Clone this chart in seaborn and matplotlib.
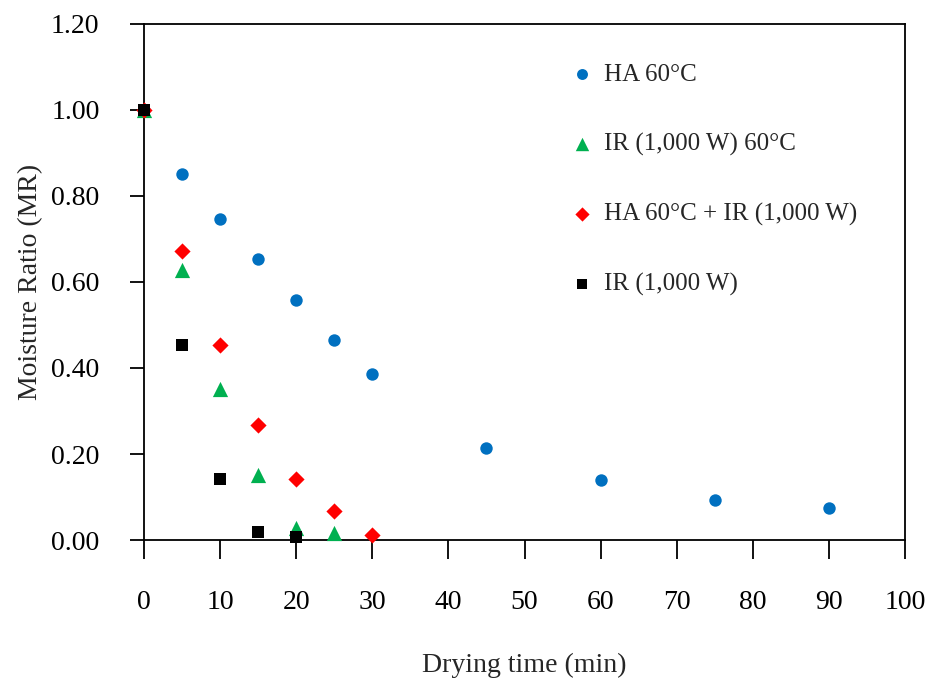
import matplotlib
matplotlib.use("Agg")
import matplotlib.pyplot as plt
import seaborn as sns
import pandas as pd

# Data
series_names = ["HA 60°C", "IR (1,000 W) 60°C", "HA 60°C + IR (1,000 W)", "IR (1,000 W)"]
ha_time = [0, 5, 10, 15, 20, 25, 30, 45, 60, 75, 90]
ha_mr = [1.00, 0.851, 0.747, 0.653, 0.558, 0.465, 0.386, 0.214, 0.140, 0.093, 0.074]
ir60_time = [0, 5, 10, 15, 20, 25]
ir60_mr = [1.00, 0.628, 0.351, 0.152, 0.028, 0.016]
hair_time = [0, 5, 10, 15, 20, 25, 30]
hair_mr = [1.00, 0.672, 0.453, 0.267, 0.142, 0.067, 0.012]
ir_time = [0, 5, 10, 15, 20]
ir_mr = [1.00, 0.453, 0.142, 0.019, 0.007]

x_ticks = [0, 10, 20, 30, 40, 50, 60, 70, 80, 90, 100]
y_ticks = [0.0, 0.2, 0.4, 0.6, 0.8, 1.0, 1.2]

sns.set_style("ticks")
plt.rcParams["font.family"] = ["Liberation Serif", "DejaVu Serif"]

fig = plt.figure(figsize=(9.31, 6.79), dpi=100)
ax = fig.add_axes([0.1547, 0.2047, 0.8174, 0.76])

colors = ["#0070C0", "#00B050", "#FF0000", "#000000"]
marker_list = ["o", "^", "D", "s"]
sizes = [80, 120, 68, 80]
times = [ha_time, ir60_time, hair_time, ir_time]
values = [ha_mr, ir60_mr, hair_mr, ir_mr]

for i, name in enumerate(series_names):
    d = pd.DataFrame({"time": times[i], "mr": values[i]})
    sns.scatterplot(data=d, x="time", y="mr", color=colors[i],
                    marker=marker_list[i], s=sizes[i], linewidth=0,
                    ax=ax, clip_on=False, zorder=3 + i, label=name)

ax.set_xlim(0, 100)
ax.set_ylim(0, 1.2)
ax.set_xticks(x_ticks)
ax.set_xticklabels([str(t) for t in x_ticks])
ax.set_yticks(y_ticks)
ax.set_yticklabels([f"{v:.2f}" for v in y_ticks])

for sp in ax.spines.values():
    sp.set_visible(True)
    sp.set_color("black")
    sp.set_linewidth(1.3)

ax.tick_params(axis="x", direction="out", length=14, width=1.3, pad=22,
               labelsize=20, colors="black")
ax.tick_params(axis="y", direction="out", length=10, width=1.3, pad=22,
               labelsize=20, colors="black")

ax.set_xlabel("Drying time (min)", fontsize=20, labelpad=27)
ax.set_ylabel("Moisture Ratio (MR)", fontsize=20, labelpad=6)

handles, labels = ax.get_legend_handles_labels()
leg = ax.legend(handles, labels, loc="upper left",
                bbox_to_anchor=(0.526, 0.967), frameon=False,
                fontsize=18, labelspacing=1.87, handletextpad=0.3,
                markerscale=0.88, handlelength=1.2)

fig.savefig("out.png", dpi=100)
